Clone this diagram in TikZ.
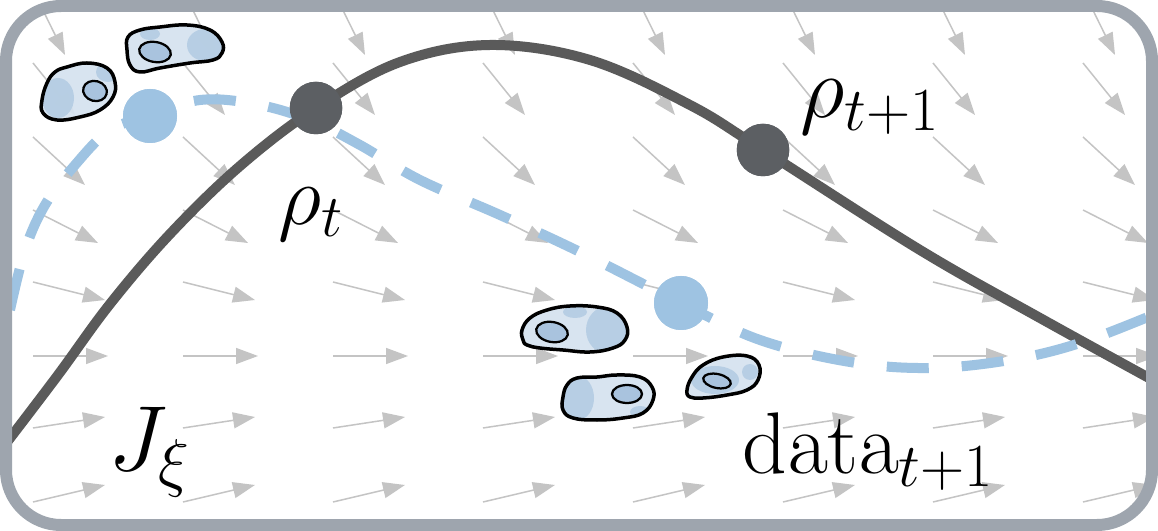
\RequirePackage{fix-cm}
\documentclass[tikz,border=0pt]{standalone}
\usetikzlibrary{arrows.meta}

\definecolor{framegray}{HTML}{9EA5AE}
\definecolor{curvegray}{HTML}{5A5A5A}
\definecolor{dotgray}{HTML}{5C5F63}
\definecolor{pathblue}{HTML}{9EC3E2}
\definecolor{cellfill}{HTML}{D5E2EF}
\definecolor{cellpatch}{HTML}{B5CDE3}
\definecolor{nucfill}{HTML}{A9C3DE}
\definecolor{fieldgray}{HTML}{C4C4C4}

\tikzset{
  fieldarrow/.style={fieldgray, line width=0.6pt, -{Triangle[length=8.8pt,width=6.4pt]}},
  darkcurve/.style={curvegray, line width=4pt},
  bluecurve/.style={pathblue, line width=4pt, dash pattern=on 16.8pt off 13.2pt},
  darkdot/.style={circle, fill=dotgray, inner sep=0pt, minimum size=21pt},
  bluedot/.style={circle, fill=pathblue, inner sep=0pt, minimum size=21.6pt},
  cellline/.style={black, line width=1.4pt, fill=cellfill, fill opacity=0.92, draw opacity=1},
  nucleus/.style={black, line width=0.9pt, fill=nucfill},
  lbl/.style={inner sep=0pt, text=black},
  frameline/.style={framegray, line width=4.8pt, rounded corners=22pt}
}

\begin{document}
\begin{tikzpicture}[x=0.4pt, y=-0.4pt]
\useasboundingbox (0,0) rectangle (1158,531);
\fill[white] (0,0) rectangle (1158,531);

\begin{scope}
  \clip[rounded corners=22pt] (6,6) rectangle (1152,525);
  % vector field: one row of arrows per vertical position
  \foreach \ty/\dx/\dy in {-10/32/65, 63/42/52, 137/52/48, 210/65/33,
                           282/72/18, 356/75/0, 428/72/-11, 502/72/-17}{
    \foreach \tx in {33,183,...,1083}{
      \draw[fieldarrow] (\tx,\ty) -- ++(\dx,\dy);
    }
  }

  % state nodes
  \node[darkdot] (rhot) at (316,108) {};
  \node[darkdot] (rhonext) at (763,150) {};
  \node[bluedot] (obsA) at (150,116) {};
  \node[bluedot] (obsB) at (681,303) {};

  % model trajectory
  \draw[darkcurve] plot[smooth, tension=0.6] coordinates {
    (4,446) (58,375) (110,304) (170,234) (240,166) (rhot.center) (400,62)
    (490,45) (590,60) (690,105) (rhonext.center) (920,250) (1040,318)
    (1160,384)};

  % observed trajectory
  \draw[bluecurve] plot[smooth, tension=0.6] coordinates {
    (10,310) (25,250) (45,205) (75,165) (110,130) (obsA.center) (200,100)
    (255,104) (310,120) (360,145) (420,180) (500,215) (580,252) (obsB.center)
    (760,340) (850,362) (930,368) (1010,360) (1080,343) (1160,312)};

  \node[darkdot] at (rhot) {};
  \node[darkdot] at (rhonext) {};
  \node[bluedot] at (obsA) {};
  \node[bluedot] at (obsB) {};
\end{scope}

% cells
\draw[cellline, path picture={
    \fill[cellpatch] (58,98) ellipse (16 and 20);
    \fill[cellpatch] (108,72) ellipse (12 and 10);}]
  plot[smooth cycle, tension=0.7] coordinates {
    (42,100) (47,83) (55,72) (67,67) (87,63) (107,68) (115,82) (113,97)
    (100,110) (80,117) (57,120) (43,113)};
\draw[nucleus, rotate around={-15:(95,91)}] (95,91) ellipse (12 and 10);

\draw[cellline, path picture={
    \fill[cellpatch] (205,45) ellipse (18 and 16);
    \fill[cellpatch] (150,34) ellipse (10 and 6);}]
  plot[smooth cycle, tension=0.7] coordinates {
    (128,37) (140,30) (160,27) (187,25) (210,30) (222,42) (222,53) (213,60)
    (190,63) (160,68) (140,72) (130,65) (127,50)};
\draw[nucleus, rotate around={-10:(155,52)}] (155,52) ellipse (16 and 10);

\draw[cellline, path picture={
    \fill[cellpatch] (608,330) ellipse (22 and 24);
    \fill[cellpatch] (575,312) ellipse (12 and 6);}]
  plot[smooth cycle, tension=0.7] coordinates {
    (523,340) (522,330) (530,318) (547,310) (570,306) (597,307) (617,313)
    (627,327) (625,340) (613,348) (590,352) (563,350) (540,348) (527,345)};
\draw[nucleus, rotate around={-10:(552,332)}] (552,332) ellipse (16 and 10);

\draw[cellline, path picture={
    \fill[cellpatch] (578,398) ellipse (16 and 22);
    \fill[cellpatch] (640,412) ellipse (10 and 6);}]
  plot[smooth cycle, tension=0.7] coordinates {
    (563,397) (567,385) (577,378) (597,377) (617,375) (640,377) (652,387)
    (653,400) (643,413) (623,418) (597,420) (573,418) (563,410)};
\draw[nucleus] (627,394) ellipse (15 and 9);

\draw[cellline, path picture={
    \fill[cellpatch] (715,380) ellipse (24 and 14);
    \fill[cellpatch] (750,372) ellipse (8 and 8);}]
  plot[smooth cycle, tension=0.7] coordinates {
    (687,390) (692,377) (703,365) (723,357) (747,356) (759,365) (758,380)
    (747,390) (727,395) (703,398) (690,397)};
\draw[nucleus, rotate around={-12:(717,381)}] (717,381) ellipse (14 and 7);

% labels
\node[lbl, font=\fontsize{34}{40}\selectfont] (rhotlab) at (311,214) {$\rho_t$};
\node[lbl, font=\fontsize{35}{41}\selectfont] (rhonextlab) at (870,107) {$\rho_{t+1}$};
\node[lbl, font=\fontsize{37}{43}\selectfont] (jlab) at (150,452) {$J_\xi$};
\node[lbl, font=\fontsize{35}{41}\selectfont] (datalab) at (868,452) {$\mathrm{data}_{t+1}$};

% frame
\draw[frameline] (6,6) rectangle (1152,525);
\end{tikzpicture}
\end{document}
